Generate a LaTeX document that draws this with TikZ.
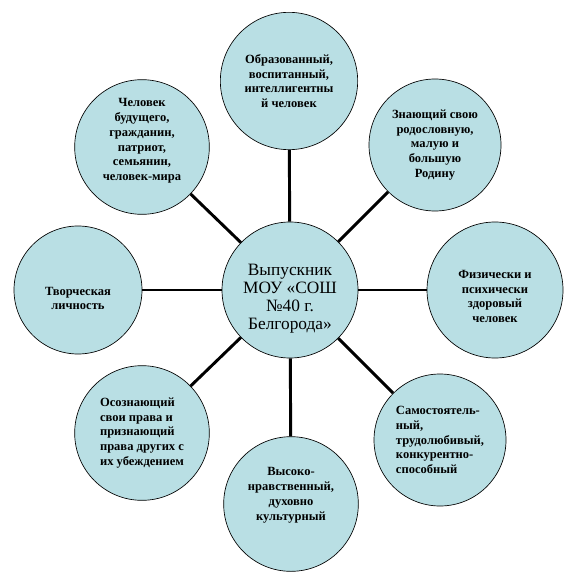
\documentclass[tikz,border=0pt]{standalone}
\usepackage{fontspec}
\setmainfont{Liberation Serif}
\usetikzlibrary{positioning}
\definecolor{bubblefill}{HTML}{B9DFE4}
% nudge a text block inside its circle: down (extra height on top) or up (extra depth below)
\newcommand\txtdown[1]{\rule{0pt}{\dimexpr0.74em+#1\relax}}
\newcommand\txtup[1]{\rule[-\dimexpr0.22em+#1\relax]{0pt}{\dimexpr0.22em+#1\relax}}

\begin{document}
\begin{tikzpicture}[
    x=0.75pt, y=-0.75pt,
    bubble/.style={circle, draw=black, line width=0.5pt, fill=bubblefill, minimum size=99pt,
                   inner sep=0pt, align=center, font=\fontsize{9.4}{11.1}\selectfont\bfseries},
    hub/.style={bubble, minimum size=102pt, font=\fontsize{13}{13.6}\selectfont},
    spoke/.style={line width=2.2pt, black},
]
  \useasboundingbox (0,0) rectangle (577,577);

  % centre
  \node[hub] (grad) at (290,290) {\txtdown{12pt}Выпускник\\МОУ «СОШ\\№40 г.\\Белгорода»};

  % outer circles, clockwise from the top
  \node[bubble, minimum size=103pt] (educated) at (289,81) {Образованный,\\воспитанный,\\интеллигентны\\й человек};
  \node[bubble] (homeland) at (435,145) {Знающий свою\\родословную,\\малую и\\большую\\Родину};
  \node[bubble, minimum size=102pt] (healthy) at (495,290) {\txtdown{9pt}Физически и\\психически\\здоровый\\человек};
  \node[bubble, align=left] (independent) at (440,440) {Самостоятель-\\ный,\\трудолюбивый,\\конкурентно-\\способный};
  \node[bubble, minimum size=101pt] (moral) at (291,504) {Высоко-\\нравственный,\\духовно\\культурный\txtup{13pt}};
  \node[bubble, minimum size=101pt, align=left] (rights) at (142,433) {Осознающий\\свои права и\\признающий\\права других с\\их убеждением};
  \node[bubble, minimum size=96pt] (creative) at (78,290) {\txtdown{12pt}Творческая\\личность};
  \node[bubble, minimum size=101pt] (citizen) at (142,147) {Человек\\будущего,\\гражданин,\\патриот,\\семьянин,\\человек-мира\txtup{9pt}};

  % spokes
  \foreach \outer in {educated, homeland, healthy, independent, moral, rights, creative, citizen}
    \draw[spoke] (grad) -- (\outer);
\end{tikzpicture}
\end{document}
